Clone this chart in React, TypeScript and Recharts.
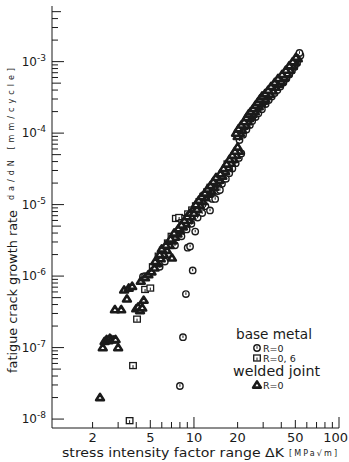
import React from "react";
import { ScatterChart, Scatter, XAxis, YAxis } from "recharts";

// [ΔK (MPa√m), da/dN (mm/cycle)]
const baseR0: number[][] = [
  [8.0, 2.9e-8], [8.4, 1.4e-7], [8.8, 5.6e-7], [9.8, 1.2e-6], [9.05, 2.5e-6], [9.4, 2.6e-6],
  [4.45, 9.8e-7], [4.6, 1.0e-6], [5.8, 1.35e-6], [6.3, 1.6e-6], [7.4, 2.7e-6], [8.2, 3.6e-6],
  [8.9, 4.5e-6], [9.6, 5.4e-6], [10.2, 4.2e-6], [10.6, 6.6e-6],
  [11.4, 7.6e-6], [12.0, 9.5e-6], [12.9, 8.3e-6], [13.4, 1.2e-5], [14.0, 1.2e-5], [14.6, 1.55e-5],
  [15.1, 1.6e-5], [15.6, 1.95e-5], [16.6, 2.3e-5], [17.5, 2.75e-5], [18.4, 3.2e-5], [19.4, 3.8e-5],
  [20.4, 4.5e-5], [21.2, 5.2e-5],
  [20.6, 8.0e-5], [21.8, 9.5e-5], [23.0, 1.12e-4], [24.3, 1.3e-4], [25.2, 1.48e-4], [26.6, 1.68e-4],
  [27.8, 1.9e-4], [29.4, 2.15e-4], [31.2, 2.55e-4], [32.8, 2.9e-4], [34.4, 3.25e-4], [36.0, 3.65e-4],
  [37.6, 4.0e-4], [39.4, 4.5e-4], [41.4, 5.1e-4], [43.4, 5.8e-4], [45.4, 6.6e-4], [47.4, 7.5e-4],
  [49.4, 8.5e-4], [51.4, 9.6e-4], [52.6, 1.1e-3], [54.2, 1.22e-3], [53.4, 1.32e-3],
];

const baseR06: number[][] = [
  [3.6, 9.5e-9], [3.8, 5.6e-8], [4.05, 2.5e-7], [4.6, 6.5e-7], [5.0, 6.8e-7],
  [5.2, 1.35e-6], [5.7, 1.9e-6], [6.1, 2.3e-6], [6.6, 2.9e-6], [7.0, 3.6e-6], [7.5, 6.4e-6],
  [7.9, 6.6e-6], [8.3, 5.6e-6], [8.7, 6.4e-6], [9.1, 7.4e-6], [9.7, 8.4e-6], [10.3, 9.6e-6],
  [10.9, 1.1e-5], [11.6, 1.3e-5], [12.3, 1.5e-5], [13.0, 1.75e-5], [17.0, 3.7e-5],
  [22.4, 1.2e-4], [28.5, 2.5e-4], [35.5, 4.2e-4], [44.5, 7.2e-4],
];

const weldR0: number[][] = [
  [2.25, 2.0e-8], [2.35, 1.0e-7], [3.0, 1.0e-7],
  [2.42, 1.22e-7], [2.5, 1.3e-7], [2.57, 1.25e-7], [2.63, 1.35e-7], [2.7, 1.3e-7], [2.8, 1.28e-7], [2.88, 1.3e-7],
  [2.85, 3.4e-7], [3.15, 3.4e-7], [3.45, 4.8e-7], [3.3, 6.4e-7], [3.55, 6.8e-7], [3.75, 7.2e-7],
  [4.0, 3.5e-7], [4.12, 3.7e-7], [4.25, 3.3e-7], [4.4, 3.6e-7], [4.5, 4.6e-7],
  [4.3, 8.5e-7], [4.6, 9.5e-7], [4.85, 1.05e-6], [5.1, 1.15e-6], [5.35, 1.3e-6],
  [5.6, 1.5e-6], [5.9, 1.75e-6], [6.2, 2.0e-6], [6.5, 2.3e-6], [6.8, 2.7e-6], [7.05, 1.8e-6],
  [7.1, 3.1e-6], [7.4, 3.5e-6], [7.7, 3.9e-6], [8.0, 4.3e-6], [8.4, 4.9e-6], [8.8, 5.4e-6],
  [9.2, 6.0e-6], [9.6, 6.8e-6],
  [5.4, 1.6e-6], [5.8, 2.0e-6], [6.0, 2.4e-6], [6.4, 2.7e-6], [6.9, 3.3e-6], [7.3, 4.0e-6],
  [7.8, 4.6e-6], [8.2, 5.2e-6], [8.6, 6.0e-6], [9.0, 6.8e-6], [9.4, 7.6e-6], [9.9, 8.6e-6],
  [10.0, 7.6e-6], [10.5, 8.6e-6], [11.0, 9.8e-6], [11.5, 1.1e-5], [12.0, 1.25e-5], [12.6, 1.4e-5],
  [13.2, 1.55e-5], [13.8, 1.75e-5], [14.4, 2.0e-5], [15.0, 2.2e-5], [15.7, 2.5e-5], [16.4, 2.9e-5],
  [17.2, 3.3e-5], [18.0, 3.8e-5], [18.8, 4.3e-5], [19.6, 4.9e-5], [20.5, 5.6e-5],
  [10.3, 1.0e-5], [10.8, 1.15e-5], [11.3, 1.3e-5], [11.9, 1.45e-5], [12.4, 1.65e-5], [13.0, 1.85e-5],
  [13.6, 2.1e-5], [14.2, 2.4e-5], [15.2, 2.7e-5], [16.0, 3.2e-5], [16.8, 3.7e-5], [17.6, 4.3e-5],
  [18.4, 4.9e-5], [19.2, 5.6e-5], [20.0, 6.4e-5],
  [20.0, 9.0e-5], [20.8, 1.0e-4], [21.5, 1.1e-4], [22.0, 1.25e-4], [22.8, 1.3e-4], [23.5, 1.45e-4],
  [24.0, 1.6e-4], [24.8, 1.7e-4], [25.5, 1.85e-4], [26.3, 2.0e-4], [27.0, 2.2e-4], [28.0, 2.35e-4],
  [29.0, 2.6e-4], [30.0, 2.8e-4], [31.0, 3.0e-4], [32.0, 3.3e-4], [33.5, 3.5e-4], [35.0, 3.9e-4],
  [36.5, 4.4e-4], [38.0, 4.8e-4], [40.0, 5.3e-4], [42.0, 6.0e-4], [44.0, 6.8e-4], [46.0, 7.6e-4],
  [48.0, 8.6e-4], [50.0, 9.8e-4], [52.0, 1.1e-3],
  [19.5, 1.0e-4], [20.3, 1.15e-4], [21.2, 1.3e-4], [22.2, 1.45e-4], [23.0, 1.65e-4], [23.8, 1.85e-4],
  [24.6, 2.0e-4], [25.6, 2.2e-4], [26.5, 2.45e-4], [27.5, 2.7e-4], [28.5, 3.0e-4], [29.5, 3.3e-4],
  [31.0, 3.6e-4], [32.5, 4.0e-4], [34.0, 4.5e-4], [36.0, 5.1e-4], [38.0, 5.8e-4], [40.5, 6.6e-4],
  [43.0, 7.6e-4], [45.5, 8.8e-4], [48.0, 1.0e-3], [50.5, 1.15e-3],
];

const xLabels = [2, 5, 10, 20, 50, 100];
const steps = [1, 2, 3, 4, 5, 6, 7, 8, 9];
const xDecades = [1, 10];
const yDecades = [-8, -7, -6, -5, -4, -3];

const xTicks = [...xDecades.flatMap((d) => steps.filter((m) => m > 1 || d > 1).map((m) => m * d)), 100];
const yTicks = yDecades.flatMap((e) =>
  steps.filter((m) => e < -3 || m <= 5).map((m) => m * Math.pow(10, e))
);

const toRows = (rows: number[][]) => rows.map(([dk, rate]) => ({ dk, rate }));

const ink = "#1a1a1a";
const font = "DejaVu Sans, sans-serif";

const mantissa = (v: number) => Math.round(v / Math.pow(10, Math.floor(Math.log10(v) + 1e-9)));

function Ring({ cx, cy }: { cx: number; cy: number }) {
  return (
    <g>
      <circle cx={cx} cy={cy} r={3.2} fill="#fff" stroke={ink} strokeWidth={1.4} />
      <line x1={cx} x2={cx} y1={cy - 1.8} y2={cy + 0.8} stroke={ink} strokeWidth={1} />
    </g>
  );
}

function Box({ cx, cy }: { cx: number; cy: number }) {
  return (
    <g>
      <rect x={cx - 3.3} y={cy - 3} width={6.6} height={6} fill="#fff" stroke={ink} strokeWidth={1.3} />
      <line x1={cx} x2={cx} y1={cy - 0.5} y2={cy + 2.5} stroke={ink} strokeWidth={1} />
    </g>
  );
}

// heavy outline leaves only a small white core
function Tri({ cx, cy }: { cx: number; cy: number }) {
  return (
    <polygon
      points={`${cx},${cy - 3.6} ${cx - 3.9},${cy + 2.6} ${cx + 3.9},${cy + 2.6}`}
      fill="#fff"
      stroke={ink}
      strokeWidth={2.6}
      strokeLinejoin="round"
    />
  );
}

function XTick(props: any) {
  const { x, y, payload } = props;
  const v = payload.value;
  const m = mantissa(v);
  const len = m === 1 ? 11 : m === 5 ? 8 : 6;
  const last = v === 100;
  return (
    <g>
      <line x1={x} x2={x} y1={y} y2={y - len} stroke={ink} strokeWidth={1} />
      {xLabels.includes(v) && (
        <text
          x={last ? 348 : x}
          y={y + 14}
          textAnchor={last ? "end" : "middle"}
          fontSize={13}
          fontFamily={font}
          fill={ink}
        >
          {v}
        </text>
      )}
    </g>
  );
}

function YTick(props: any) {
  const { x, y, payload } = props;
  const v = payload.value;
  const m = mantissa(v);
  const len = m === 1 ? 12 : m === 5 ? 9 : 6;
  const e = Math.round(Math.log10(v));
  return (
    <g>
      <line x1={x} x2={x + len} y1={y} y2={y} stroke={ink} strokeWidth={1} />
      {m === 1 && (
        <text x={x - 6} y={y + 4} textAnchor="end" fontSize={12} fontFamily={font} fill={ink}>
          10
          <tspan dy={-5} fontSize={9}>
            {"-" + Math.abs(e)}
          </tspan>
        </text>
      )}
    </g>
  );
}

export default function App() {
  return (
    <div style={{ position: "absolute", left: 0, top: 0, width: 349, height: 462, background: "#fff" }}>
      <ScatterChart width={349} height={462} margin={{ top: 6, right: 10, bottom: 0, left: 0 }}>
        <XAxis
          dataKey="dk"
          type="number"
          scale="log"
          domain={[1.05, 100]}
          allowDataOverflow
          ticks={xTicks}
          interval={0}
          tick={<XTick />}
          tickLine={false}
          tickSize={0}
          tickMargin={0}
          height={34}
          stroke={ink}
        />
        <YAxis
          dataKey="rate"
          type="number"
          scale="log"
          domain={[7.5e-9, 6.0e-3]}
          allowDataOverflow
          ticks={yTicks}
          interval={0}
          tick={<YTick />}
          tickLine={false}
          tickSize={0}
          tickMargin={0}
          width={52}
          stroke={ink}
        />
        <Scatter data={toRows(baseR06)} isAnimationActive={false} shape={(p: any) => <Box cx={p.cx} cy={p.cy} />} />
        <Scatter data={toRows(baseR0)} isAnimationActive={false} shape={(p: any) => <Ring cx={p.cx} cy={p.cy} />} />
        <Scatter data={toRows(weldR0)} isAnimationActive={false} shape={(p: any) => <Tri cx={p.cx} cy={p.cy} />} />
      </ScatterChart>
      <svg
        width={349}
        height={462}
        style={{ position: "absolute", left: 0, top: 0, pointerEvents: "none" }}
        fontFamily={font}
        fill={ink}
      >
        <text transform="translate(17,373) rotate(-90)" fontSize={13} textLength={163} lengthAdjust="spacingAndGlyphs">
          fatigue crack growth rate
        </text>
        <text transform="translate(14,200) rotate(-90)" fontSize={8} textLength={132} lengthAdjust="spacing">
          da/dN  [mm/cycle]
        </text>
        <text x={62} y={457} fontSize={13} textLength={222} lengthAdjust="spacingAndGlyphs">
          stress intensity factor range ΔK
        </text>
        <text x={289} y={456} fontSize={8} textLength={48} lengthAdjust="spacing">
          [MPa√m]
        </text>

        <text x={236} y={339} fontSize={14} textLength={76} lengthAdjust="spacingAndGlyphs">
          base metal
        </text>
        <Ring cx={257} cy={348} />
        <text x={263} y={351.5} fontSize={9.5}>R=0</text>
        <Box cx={257} cy={358} />
        <text x={263} y={361.5} fontSize={9.5}>R=0, 6</text>
        <text x={233} y={376} fontSize={14} textLength={87} lengthAdjust="spacingAndGlyphs">
          welded joint
        </text>
        <Tri cx={257} cy={385} />
        <text x={263} y={389} fontSize={9.5}>R=0</text>
      </svg>
    </div>
  );
}
